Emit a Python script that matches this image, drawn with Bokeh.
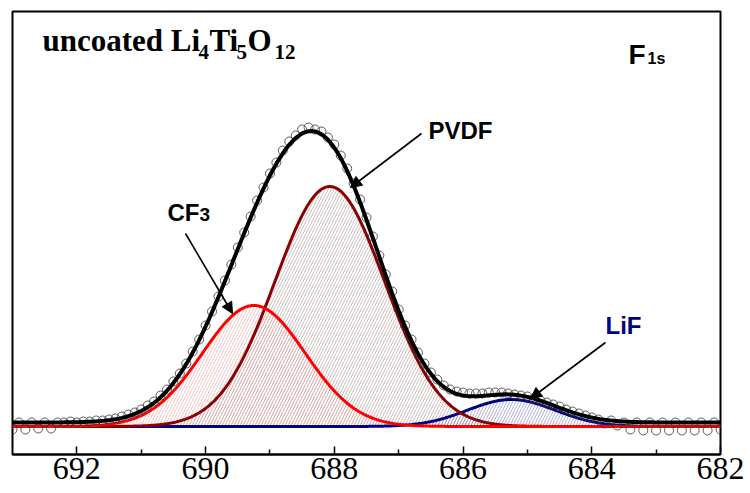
import numpy as np
from bokeh.plotting import figure
from bokeh.models import Range1d, FixedTicker, Label, Arrow, NormalHead
from bokeh.embed import file_html
from bokeh.resources import INLINE

# F 1s spectrum: binding energy (eV) and measured intensity (a.u.)
binding_energy = [
    693.0, 692.9, 692.8, 692.7, 692.6, 692.5, 692.4, 692.3, 692.2, 692.1,
    692.0, 691.9, 691.8, 691.7, 691.6, 691.5, 691.4, 691.3, 691.2, 691.1,
    691.0, 690.9, 690.8, 690.7, 690.6, 690.5, 690.4, 690.3, 690.2, 690.1,
    690.0, 689.9, 689.8, 689.7, 689.6, 689.5, 689.4, 689.3, 689.2, 689.1,
    689.0, 688.9, 688.8, 688.7, 688.6, 688.5, 688.4, 688.3, 688.2, 688.1,
    688.0, 687.9, 687.8, 687.7, 687.6, 687.5, 687.4, 687.3, 687.2, 687.1,
    687.0, 686.9, 686.8, 686.7, 686.6, 686.5, 686.4, 686.3, 686.2, 686.1,
    686.0, 685.9, 685.8, 685.7, 685.6, 685.5, 685.4, 685.3, 685.2, 685.1,
    685.0, 684.9, 684.8, 684.7, 684.6, 684.5, 684.4, 684.3, 684.2, 684.1,
    684.0, 683.9, 683.8, 683.7, 683.6, 683.5, 683.4, 683.3, 683.2, 683.1,
    683.0, 682.9, 682.8, 682.7, 682.6, 682.5, 682.4, 682.3, 682.2, 682.1,
    682.0,
]
intensity = [
    -4, 3, -4, 3, -3, 3, -3, 3, 3, 4,
    3, 4, 4, 5, 5, 6, 7, 9, 11, 13,
    16, 20, 24, 30, 36, 44, 52, 62, 74, 86,
    100, 114, 129, 145, 161, 178, 193, 209, 225, 238,
    252, 263, 275, 284, 290, 296, 298, 296, 294, 288,
    281, 270, 257, 242, 226, 208, 189, 170, 151, 134,
    116, 100, 86, 73, 62, 53, 46, 40, 36, 34,
    33, 32, 32, 32, 33, 33, 33, 32, 31, 30,
    29, 27, 25, 23, 21, 19, 16, 14, 12, 10,
    8, 6, 2, 5, 0, 3, -4, 3, -5, 3,
    -5, 3, -5, 3, -5, 3, -5, 3, -5, 3,
    -4,
]

# Gaussian fit components
peak_names = ["CF3", "PVDF", "LiF"]
peak_centers = [689.25, 688.07, 685.25]
peak_heights = [121, 240, 27]
peak_fwhm = [1.88, 2.0, 1.6]
component_baseline = -1
envelope_background = 3

line_colors = ["#ff0000", "#8b0000", "#000080"]
hatch_colors = ["#e9a3a3", "#a89494", "#7d7dbd"]

major_ticks = [682, 684, 686, 688, 690, 692]
minor_ticks = [683, 685, 687, 689, 691]

SERIF = "'Liberation Serif'"
SANS = "'Liberation Sans'"

# fit model on a fine energy grid
be = np.linspace(693.0, 682.0, 551)
base = np.full_like(be, component_baseline, dtype=float)
components = []
for c, h, w in zip(peak_centers, peak_heights, peak_fwhm):
    sigma = w / (2.0 * np.sqrt(2.0 * np.log(2.0)))
    components.append(h * np.exp(-((be - c) ** 2) / (2.0 * sigma ** 2)))
envelope = envelope_background + np.sum(components, axis=0)

p = figure(
    width=750, height=493,
    x_range=Range1d(693, 682), y_range=Range1d(-29, 414),
    output_backend="svg", toolbar_location=None,
    y_axis_location=None,
    min_border_left=12, min_border_right=30,
    min_border_top=11, min_border_bottom=39,
)
p.grid.visible = False
p.outline_line_color = "black"
p.outline_line_width = 2
p.background_fill_color = "white"
p.border_fill_color = "white"

ax = p.xaxis[0]
ax.ticker = FixedTicker(ticks=major_ticks, minor_ticks=minor_ticks)
ax.major_tick_in = 8
ax.major_tick_out = 0
ax.minor_tick_in = 5
ax.minor_tick_out = 0
ax.axis_line_width = 2
ax.major_tick_line_width = 1.5
ax.minor_tick_line_width = 1.5
ax.major_label_text_font = SERIF
ax.major_label_text_font_size = "32px"
ax.major_label_text_color = "black"
ax.major_label_standoff = 3

# hatched areas under each component (PVDF drawn first)
for i in [1, 0, 2]:
    p.varea(x=be, y1=base, y2=base + components[i], fill_alpha=0,
            hatch_pattern="/", hatch_color=hatch_colors[i],
            hatch_weight=0.6, hatch_scale=6)

# component lines
for i in [2, 1, 0]:
    p.line(be, base + components[i], line_color=line_colors[i], line_width=3)

# measured points and envelope
p.scatter(binding_energy, intensity, marker="circle", size=9,
          fill_color=None, line_color="#333333", line_width=0.8)
p.line(be, envelope, line_color="black", line_width=4)


def add_text(text, x, y, size, font, color="black"):
    # y is the text baseline; shift compensates for baseline placement
    p.add_layout(Label(x=x, y=y + 0.33 * size, text=text, text_font=font,
                       text_font_style="bold", text_font_size=f"{size}px",
                       text_baseline="alphabetic", text_color=color))


# sample name with subscripts
add_text("uncoated Li", 692.534, 375, 31, SERIF)
add_text("4", 690.110, 367, 21, SERIF)
add_text("Ti", 689.940, 375, 31, SERIF)
add_text("5", 689.520, 367, 21, SERIF)
add_text("O", 689.350, 375, 31, SERIF)
add_text("12", 688.930, 367, 21, SERIF)

# core level
add_text("F", 683.430, 362, 28, SANS)
add_text("1s", 683.134, 362, 16, SANS)

# component names
add_text("PVDF", 686.537, 287, 24, SANS)
add_text("CF", 690.592, 205, 24, SANS)
add_text("3", 690.095, 205, 19, SANS)
add_text("LiF", 683.787, 92, 24, SANS, "#000080")

arrows = [
    (686.645, 292, 687.749, 238),
    (690.312, 192, 689.582, 112),
    (683.787, 83, 684.952, 27),
]
for xs, ys, xe, ye in arrows:
    p.add_layout(Arrow(x_start=xs, y_start=ys, x_end=xe, y_end=ye,
                       line_color="black", line_width=1.6,
                       end=NormalHead(size=11, fill_color="black",
                                      line_color="black", line_width=1)))

open("out.html", "w").write(file_html(p, INLINE))
